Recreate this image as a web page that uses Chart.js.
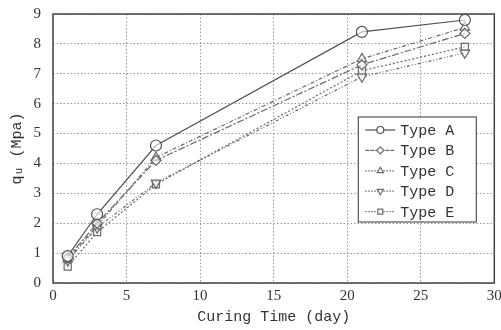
<!DOCTYPE html>
<html>
<head>
<meta charset="utf-8">
<script src="https://cdn.jsdelivr.net/npm/chart.js@4/dist/chart.umd.min.js"></script>
<style>
  html, body { margin: 0; padding: 0; background: #fff; }
  #wrap { width: 501px; height: 330px; }
</style>
</head>
<body>
<div id="wrap"><canvas id="michart"></canvas></div>
<script>
const dias = [1, 3, 7, 21, 28]
const tipoA = [0.9, 2.3, 4.6, 8.4, 8.8]
const tipoB = [0.85, 2.0, 4.1, 7.3, 8.35]
const tipoC = [0.8, 1.9, 4.2, 7.5, 8.55]
const tipoD = [0.75, 1.85, 3.35, 6.9, 7.7]
const tipoE = [0.55, 1.7, 3.3, 7.1, 7.9]
const nombres = ['Type A', 'Type B', 'Type C', 'Type D', 'Type E']
const xTicks = [0, 5, 10, 15, 20, 25, 30]
const yTicks = [0, 1, 2, 3, 4, 5, 6, 7, 8, 9]

const puntos = serie => serie.map((v, i) => ({ x: dias[i], y: v }))

const estilos = [
  { color: '#505050', dash: [], point: 'circle', radius: 5.5 },
  { color: '#6a6a6a', dash: [7, 2, 2, 2], point: 'rectRot', radius: 5 },
  { color: '#6a6a6a', dash: [4, 2, 1, 2], point: 'triangle', radius: 5.5 },
  { color: '#6a6a6a', dash: [3, 2, 1, 2, 1, 2], point: 'triangle', radius: 5.5, rot: 180 },
  { color: '#6a6a6a', dash: [2, 2], point: 'rect', radius: 5 }
]
const series = [tipoA, tipoB, tipoC, tipoD, tipoE]

const datasets = series.map((s, i) => ({
  label: nombres[i],
  data: puntos(s),
  borderColor: estilos[i].color,
  borderWidth: 1.2,
  borderDash: estilos[i].dash,
  pointStyle: estilos[i].point,
  pointRotation: estilos[i].rot || 0,
  pointRadius: estilos[i].radius,
  pointBackgroundColor: 'rgba(255,255,255,0.6)',
  pointBorderColor: estilos[i].color,
  pointBorderWidth: 1.2,
  tension: 0
}))

// marco del area y leyenda dentro del grafico
const marcoLeyenda = {
  id: 'marcoLeyenda',
  afterDraw(chart) {
    const ctx = chart.ctx
    const a = chart.chartArea
    ctx.save()
    ctx.strokeStyle = '#444'
    ctx.lineWidth = 1.5
    ctx.strokeRect(a.left, a.top, a.right - a.left, a.bottom - a.top)

    const left = a.right - 136, top = a.top + 103
    ctx.fillStyle = '#fff'
    ctx.fillRect(left, top, 118, 105)
    ctx.strokeStyle = '#555'
    ctx.lineWidth = 1.2
    ctx.strokeRect(left, top, 118, 105)
    ctx.font = '15px "Liberation Mono", monospace'
    ctx.textBaseline = 'middle'
    nombres.forEach((n, i) => {
      const y = top + 13 + i * 20.4
      const e = estilos[i]
      ctx.strokeStyle = e.color
      ctx.lineWidth = 1.2
      ctx.setLineDash(i === 0 ? [] : (i === 1 ? [4, 1] : [1.5, 1.5]))
      ctx.beginPath()
      ctx.moveTo(left + 7, y)
      ctx.lineTo(left + 37, y)
      ctx.stroke()
      ctx.setLineDash([])
      ctx.fillStyle = '#fff'
      Chart.helpers.drawPoint(ctx, {
        pointStyle: e.point, radius: 3.5, rotation: e.rot || 0, borderWidth: 1.2
      }, left + 22, y)
      ctx.fillStyle = '#333'
      ctx.fillText(n, left + 42, y + 1)
    })
    ctx.restore()
  }
}

const config = {
  type: 'line',
  data: { datasets },
  options: {
    responsive: true,
    maintainAspectRatio: false,
    animation: false,
    layout: { padding: { top: 14, right: 0, left: 8, bottom: 4 } },
    plugins: {
      legend: { display: false },
      tooltip: { enabled: false }
    },
    scales: {
      x: {
        type: 'linear',
        min: 0, max: 30,
        afterBuildTicks: sc => { sc.ticks = xTicks.map(v => ({ value: v })) },
        afterFit: sc => { sc.height = 43; sc.paddingRight = 2 },
        ticks: { color: '#333', font: { family: 'Liberation Serif', size: 15 }, padding: 4 },
        grid: { color: '#999', lineWidth: 1, tickLength: 0 },
        border: { display: false, dash: [1.5, 2] },
        title: {
          display: true, text: 'Curing Time (day)', color: '#333',
          font: { family: 'Liberation Mono', size: 15 }, padding: { top: 0, bottom: 0 }
        }
      },
      y: {
        min: 0, max: 9,
        afterBuildTicks: sc => { sc.ticks = yTicks.map(v => ({ value: v })) },
        afterFit: sc => { sc.width = 45; sc.paddingTop = 0 },
        ticks: { color: '#333', font: { family: 'Liberation Serif', size: 15 }, padding: 12 },
        grid: { color: '#999', lineWidth: 1, tickLength: 0 },
        border: { display: false, dash: [1.5, 2] },
        title: {
          display: true, text: 'qᵤ (Mpa)', color: '#333',
          font: { family: 'Liberation Mono', size: 15 }, padding: { top: 0, bottom: 0 }
        }
      }
    }
  },
  plugins: [marcoLeyenda]
}

document.addEventListener('DOMContentLoaded', () => {
  const chart = new Chart(document.getElementById('michart'), config)
})
</script>
</body>
</html>
